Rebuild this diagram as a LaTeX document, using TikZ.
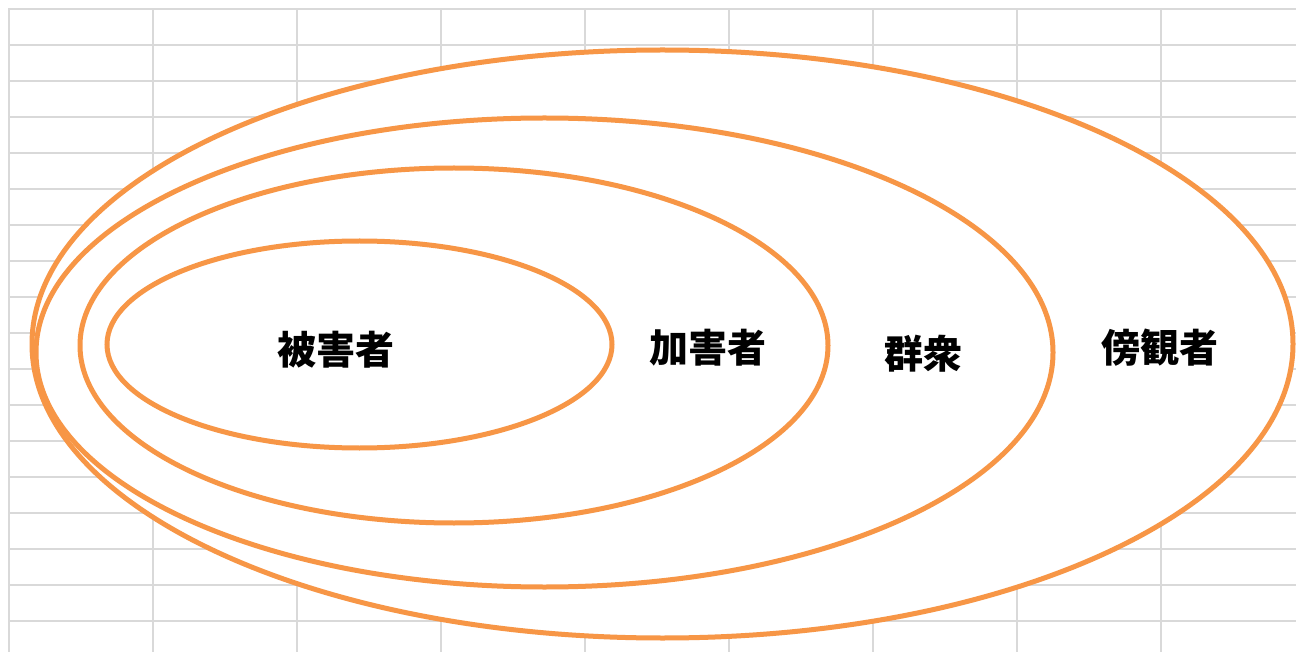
\documentclass[tikz,border=0pt]{standalone}
\usepackage{fontspec}
\newfontfamily\cjk{Noto Sans CJK JP}
\definecolor{gridgray}{HTML}{D9D9D9}
\definecolor{ringorange}{HTML}{F79646}
\begin{document}
\begin{tikzpicture}[x=1pt,y=-1pt,
  gridline/.style={draw=gridgray,line width=2pt},
  ring/.style={draw=ringorange,line width=5pt},
  lbl/.style={font=\cjk\bfseries\fontsize{39}{42}\selectfont,inner sep=0pt,text=black}]
\useasboundingbox (0,0) rectangle (1296,652);
\fill[white] (0,0) rectangle (1296,652);
% grid
\foreach \x in {9,153,...,1161} \draw[gridline] (\x,9) -- (\x,652);
\foreach \y in {9,45,...,621} \draw[gridline] (8,\y) -- (1296,\y);
% rings
\draw[ring,fill=white] (662.5,344) ellipse [x radius=630.5,y radius=294];
\draw[ring] (544.5,352.5) ellipse [x radius=508.5,y radius=234.5];
\draw[ring] (454,345.5) ellipse [x radius=374,y radius=177.5];
\draw[ring] (359.5,344.5) ellipse [x radius=252.5,y radius=103.5];
% labels
\node[lbl] (victim) at (336,350) {被害者};
\node[lbl] (bully) at (708,348) {加害者};
\node[lbl] (crowd) at (923,354) {群衆};
\node[lbl] (bystander) at (1160,348) {傍観者};
\end{tikzpicture}
\end{document}
